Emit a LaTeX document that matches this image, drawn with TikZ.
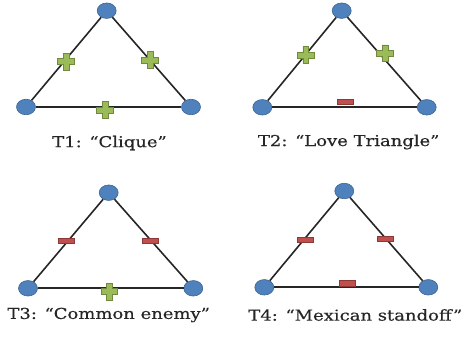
\documentclass[tikz,border=0pt]{standalone}
\usepackage{fontspec}
\setmainfont{DejaVu Serif}[FakeStretch=1.2, FakeBold=0.4]
\usepackage{tikz}
\usetikzlibrary{positioning,shapes.geometric}

\definecolor{NodeBlue}{HTML}{4F81BD}
\definecolor{NodeLine}{HTML}{3A6593}
\definecolor{PlusGreen}{HTML}{9BBB59}
\definecolor{PlusLine}{HTML}{71893F}
\definecolor{MinusRed}{HTML}{C0504D}
\definecolor{MinusLine}{HTML}{8C3836}

\tikzset{
  actor/.style={ellipse, draw=NodeLine, fill=NodeBlue, line width=0.6pt, minimum width=19pt, minimum height=15.5pt, inner sep=0pt},
  tie/.style={-, black!85, line width=1.6pt},
  plusbox/.style={minimum size=17pt, inner sep=0pt},
  minusbox/.style={rectangle, draw=MinusLine, fill=MinusRed, line width=0.6pt, minimum width=16pt, minimum height=5.5pt, inner sep=0pt},
  caption/.style={font=\fontsize{15}{18}\selectfont, text=black!85, inner sep=0pt}
}

\newcommand\plusmark[2]{%
  \node[plusbox] (#1) at (#2) {};
  \filldraw[fill=PlusGreen, draw=PlusLine, line width=0.6pt]
    ([shift={(-2.9,-8.3)}]#1.center) -- ++(5.8,0) -- ++(0,5.4) -- ++(5.4,0) -- ++(0,5.8)
    -- ++(-5.4,0) -- ++(0,5.4) -- ++(-5.8,0) -- ++(0,-5.4) -- ++(-5.4,0) -- ++(0,-5.8)
    -- ++(5.4,0) -- cycle;}

\begin{document}
\begin{tikzpicture}[x=1pt, y=-1pt]
\useasboundingbox (0,0) rectangle (469,339);

\node[actor] (t1top) at (106.7,10.7) {};
\node[actor] (t1left) at (26,107) {};
\node[actor] (t1right) at (191,107) {};
\draw[tie] (t1top) -- (t1left);
\draw[tie] (t1top) -- (t1right);
\draw[tie] (t1left) -- (t1right);
\plusmark{t1a}{66,61.7}
\plusmark{t1b}{150,60}
\plusmark{t1c}{105,110}
\node[caption] (t1name) at (109.5,143) {T1: “Clique”};

\node[actor] (t2top) at (341.7,10.7) {};
\node[actor] (t2left) at (262.3,107.3) {};
\node[actor] (t2right) at (426.7,107.3) {};
\draw[tie] (t2top) -- (t2left);
\draw[tie] (t2top) -- (t2right);
\draw[tie] (t2left) -- (t2right);
\plusmark{t2a}{305.7,55}
\plusmark{t2b}{385,53.3}
\node[minusbox] (t2c) at (345,101.7) {};
\node[caption] (t2name) at (348.7,142) {T2: “Love Triangle”};

\node[actor] (t3top) at (108.7,192.7) {};
\node[actor] (t3left) at (28,288.3) {};
\node[actor] (t3right) at (193.3,288.3) {};
\draw[tie] (t3top) -- (t3left);
\draw[tie] (t3top) -- (t3right);
\draw[tie] (t3left) -- (t3right);
\node[minusbox] (t3a) at (66.7,241) {};
\node[minusbox] (t3b) at (150,241) {};
\plusmark{t3c}{109.3,291.7}
\node[caption] (t3name) at (108.7,315) {T3: “Common enemy”};

\node[actor] (t4top) at (344.3,191) {};
\node[actor] (t4left) at (264.3,287.3) {};
\node[actor] (t4right) at (428.3,287.3) {};
\draw[tie] (t4top) -- (t4left);
\draw[tie] (t4top) -- (t4right);
\draw[tie] (t4left) -- (t4right);
\node[minusbox] (t4a) at (305,240) {};
\node[minusbox] (t4b) at (385,239) {};
\node[minusbox] (t4c) at (347.3,283.3) {};
\node[caption] (t4name) at (355.3,315) {T4: “Mexican standoff”};
\end{tikzpicture}
\end{document}
